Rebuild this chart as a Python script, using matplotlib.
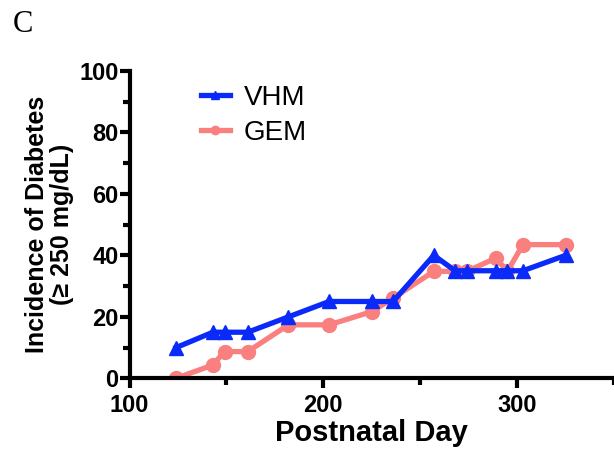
import matplotlib
matplotlib.use("Agg")
import matplotlib.pyplot as plt
from matplotlib.ticker import MultipleLocator

plt.rcParams['font.family'] = ['Liberation Sans', 'DejaVu Sans']

# postnatal day of each check and % diabetic
days_vhm = [124, 143, 149, 161, 182, 203, 225, 236, 257, 268, 274, 289, 295, 303, 325]
vhm = [10, 15, 15, 15, 20, 25, 25, 25, 40, 35, 35, 35, 35, 35, 40]

days_gem = [124, 143, 149, 161, 182, 203, 225, 236, 257, 268, 274, 289, 295, 303, 325]
gem = [0, 4.35, 8.7, 8.7, 17.4, 17.4, 21.7, 26.1, 34.8, 34.8, 34.8, 39.1, 34.8, 43.5, 43.5]

blue = '#0a2afa'
pink = '#fa8080'

fig = plt.figure(figsize=(6.14, 4.54), dpi=100)
ax = fig.add_axes([0.211, 0.1667, 0.789, 0.677])

ax.plot(days_gem, gem, color=pink, lw=3.8, marker='o', ms=10, label='GEM', zorder=2)
ax.plot(days_vhm, vhm, color=blue, lw=3.8, marker='^', ms=10, label='VHM', zorder=3)

ax.set_xlim(100, 350)
ax.set_ylim(0, 100)
ax.xaxis.set_major_locator(MultipleLocator(100))
ax.xaxis.set_minor_locator(MultipleLocator(50))
ax.yaxis.set_major_locator(MultipleLocator(20))
ax.yaxis.set_minor_locator(MultipleLocator(10))

for s in ['top', 'right']:
    ax.spines[s].set_visible(False)
for s in ['left', 'bottom']:
    ax.spines[s].set_linewidth(3)
ax.tick_params(which='major', width=3, length=7, labelsize=17, pad=1)
ax.tick_params(axis='x', which='major', pad=4)
ax.tick_params(which='minor', width=3, length=5)
for lab in ax.get_xticklabels() + ax.get_yticklabels():
    lab.set_fontweight('bold')

ax.set_xlabel('Postnatal Day', fontsize=21, fontweight='bold', labelpad=2)
ax.set_ylabel('Incidence of Diabetes\n(≥ 250 mg/dL)', fontsize=18, fontweight='bold',
              labelpad=4, linespacing=1.05)

h, l = ax.get_legend_handles_labels()
leg = ax.legend(h[::-1], l[::-1], loc='upper left', bbox_to_anchor=(0.095, 1.035),
                frameon=False, fontsize=20, handlelength=1.05, markerscale=0.6,
                handletextpad=0.5, labelspacing=0.3)

fig.text(0.02, 0.93, 'C', fontsize=22, family='Liberation Serif')

fig.savefig('out.png', dpi=100)
